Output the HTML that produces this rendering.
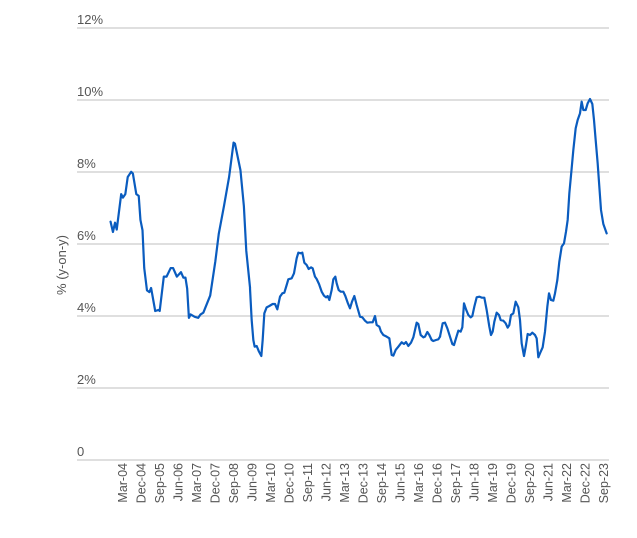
<!DOCTYPE html>
<html><head><meta charset="utf-8"><style>
body{margin:0;background:#fff;}
svg{display:block;font-family:"Liberation Sans",sans-serif;}
</style></head><body>
<svg width="637" height="538" viewBox="0 0 637 538">
<g stroke="#cccccc" stroke-width="1.2">
<line x1="77" x2="609" y1="28" y2="28"/><line x1="77" x2="609" y1="100" y2="100"/>
<line x1="77" x2="609" y1="172" y2="172"/><line x1="77" x2="609" y1="244" y2="244"/>
<line x1="77" x2="609" y1="316" y2="316"/><line x1="77" x2="609" y1="388" y2="388"/>
<line x1="77" x2="609" y1="460" y2="460"/>
</g>
<g fill="#555" font-size="13">
<text x="77" y="24">12%</text><text x="77" y="96">10%</text><text x="77" y="168">8%</text>
<text x="77" y="240">6%</text><text x="77" y="312">4%</text><text x="77" y="384">2%</text>
<text x="77" y="456">0</text>
</g>
<text transform="translate(66,265) rotate(-90)" text-anchor="middle" font-size="13" fill="#555">% (y-on-y)</text>
<g fill="none" stroke="#0a5cbf" stroke-width="2.2" stroke-linejoin="round" stroke-linecap="round">
<polyline vector-effect="non-scaling-stroke" transform="translate(59,0) scale(0.34364)" points="150,645 157,675 163,648 168,668 181,565 186,575 193,565 200,515 210,500 215,505 225,565 232,570 237,640 243,670 248,780 256,845 263,850 268,838 280,905 290,902 293,905 305,805 313,805 325,780 332,780 343,805 355,792 362,808 368,808 373,840 378,925 383,915 395,922 405,925 412,915 420,910 440,860 455,760 465,680 480,600 495,515 508,415 512,418 528,495 538,600 545,730 556,838"/>
<polyline vector-effect="non-scaling-stroke" transform="translate(250,220) scale(0.33333)" points="0,205 5,300 10,360 14,380 20,378 27,395 34,408 38,360 43,280 50,262 58,258 68,252 75,252 82,268 90,230 97,220 103,218 110,195 115,178 125,175 132,160 140,115 145,98 152,100 157,98 163,128 170,135 176,147 183,142 188,145 195,170 200,177 207,192 215,215 222,227 228,232 233,228 238,240 245,210 250,178 256,170 260,190 266,210 272,215 280,215 286,228 293,248 300,265 306,245 313,228 320,255 330,290 337,292 345,302 352,308 360,307 368,307 375,288 380,315 388,320 393,335 400,345 410,350 418,355 425,405 430,407 437,390 445,380 455,367 462,372 468,366 475,378 483,368 490,352 495,330 500,308 505,312 512,345 520,352 525,350 532,336 538,345 545,360 550,363 558,360 565,358 570,350"/>
<polyline vector-effect="non-scaling-stroke" transform="translate(440,80) scale(0.33333)" points="0,770 8,730 15,728 22,745 30,770 37,792 42,795 48,775 55,752 62,755 67,742 72,670 78,688 85,705 92,712 97,708 103,680 110,652 118,650 125,653 133,653 140,690 148,740 153,765 158,755 163,725 170,698 177,705 182,720 190,722 197,730 203,743 208,735 213,705 220,700 227,665 235,682 240,720 245,790 252,828 258,795 263,762 270,765 277,758 285,765 290,775 295,832 300,820 308,802 315,755 322,680 327,640 333,660 340,662 345,640 352,600 358,545 365,500 372,490 378,455 383,420 388,340 395,265 400,210 407,145 413,120 420,100 425,65 430,90 437,90 443,70 450,57 457,72 462,120 467,180 473,250 478,320 483,390 490,432 500,460"/>
</g>
<g fill="#555" font-size="12.5" text-anchor="end">
<text transform="translate(127,463) rotate(-90)">Mar-04</text>
<text transform="translate(145.5,463) rotate(-90)">Dec-04</text>
<text transform="translate(164,463) rotate(-90)">Sep-05</text>
<text transform="translate(182.5,463) rotate(-90)">Jun-06</text>
<text transform="translate(201,463) rotate(-90)">Mar-07</text>
<text transform="translate(219.5,463) rotate(-90)">Dec-07</text>
<text transform="translate(238,463) rotate(-90)">Sep-08</text>
<text transform="translate(256.5,463) rotate(-90)">Jun-09</text>
<text transform="translate(275,463) rotate(-90)">Mar-10</text>
<text transform="translate(293.5,463) rotate(-90)">Dec-10</text>
<text transform="translate(312,463) rotate(-90)">Sep-11</text>
<text transform="translate(330.5,463) rotate(-90)">Jun-12</text>
<text transform="translate(349,463) rotate(-90)">Mar-13</text>
<text transform="translate(367.5,463) rotate(-90)">Dec-13</text>
<text transform="translate(386,463) rotate(-90)">Sep-14</text>
<text transform="translate(404.5,463) rotate(-90)">Jun-15</text>
<text transform="translate(423,463) rotate(-90)">Mar-16</text>
<text transform="translate(441.5,463) rotate(-90)">Dec-16</text>
<text transform="translate(460,463) rotate(-90)">Sep-17</text>
<text transform="translate(478.5,463) rotate(-90)">Jun-18</text>
<text transform="translate(497,463) rotate(-90)">Mar-19</text>
<text transform="translate(515.5,463) rotate(-90)">Dec-19</text>
<text transform="translate(534,463) rotate(-90)">Sep-20</text>
<text transform="translate(552.5,463) rotate(-90)">Jun-21</text>
<text transform="translate(571,463) rotate(-90)">Mar-22</text>
<text transform="translate(589.5,463) rotate(-90)">Dec-22</text>
<text transform="translate(608,463) rotate(-90)">Sep-23</text>
</g>
</svg>
</body></html>
